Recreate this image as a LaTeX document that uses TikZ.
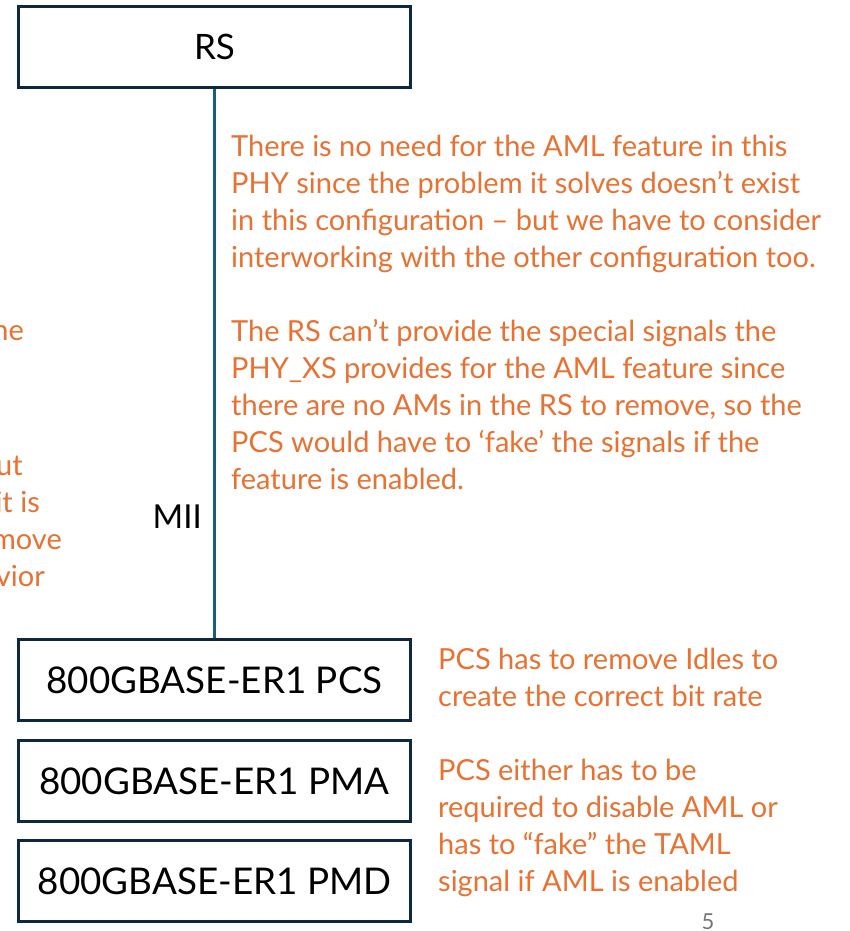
\documentclass[tikz,border=0pt]{standalone}
\usepackage{fontspec}
\setmainfont{Lato}
\definecolor{accentorange}{HTML}{E97132}
\definecolor{framecol}{HTML}{0E2841}
\definecolor{linkcol}{HTML}{156082}
\definecolor{pagenum}{HTML}{767676}
\begin{document}
\begin{tikzpicture}[x=1pt,y=-1pt,
  layer/.style={draw=framecol, line width=3pt, minimum width=392pt, minimum height=81pt,
                inner sep=0pt, text=black, font=\fontsize{36.8}{44}\selectfont},
  remark/.style={text=accentorange, font=\fontsize{29}{37}\selectfont, inner sep=0pt, align=left}]
\useasboundingbox (0,0) rectangle (849,931);
\clip (0,0) rectangle (849,931);

% protocol layers
\node[layer, font=\fontsize{35}{40}\selectfont] (rs) at (214.5,47) {RS};
\node[layer] (pcs) at (214.5,680) {800GBASE-ER1 PCS};
\node[layer] (pma) at (214.5,781) {800GBASE-ER1 PMA};
\node[layer] (pmd) at (214.5,881) {800GBASE-ER1 PMD};

% MII interface
\draw[linkcol, line width=2.5pt] (rs.south) -- (pcs.north);
\node[anchor=east, inner sep=0pt, font=\fontsize{33}{38}\selectfont] (miilabel) at (202,517) {MII};

% remarks (base anchor = baseline of the last line)
\node[remark, anchor=base west] (remarkA) at (231,489)
  {There is no need for the AML feature in this\\
   PHY since the problem it solves doesn’t exist\\
   in this configuration – but we have to consider\\
   interworking with the other configuration too.\\[37pt]
   The RS can’t provide the special signals the\\
   PHY\_XS provides for the AML feature since\\
   there are no AMs in the RS to remove, so the\\
   PCS would have to ‘fake’ the signals if the\\
   feature is enabled.};

\node[remark, anchor=base west] (remarkB) at (438,891)
  {PCS has to remove Idles to\\
   create the correct bit rate\\[37pt]
   PCS either has to be\\
   required to disable AML or\\
   has to “fake” the TAML\\
   signal if AML is enabled};

% text running in from the left
\node[remark, anchor=base east] (frag1) at (24,340) {the};
\node[remark, anchor=base east] (frag2) at (23,475) {but};
\node[remark, anchor=base east] (frag3) at (40,512) {it is};
\node[remark, anchor=base east] (frag4) at (62,549) {remove};
\node[remark, anchor=base east] (frag5) at (45,586) {behavior};

% page number
\node[text=pagenum, inner sep=0pt, font=\fontsize{22}{26}\selectfont] (pageno) at (708,922) {5};
\end{tikzpicture}
\end{document}
